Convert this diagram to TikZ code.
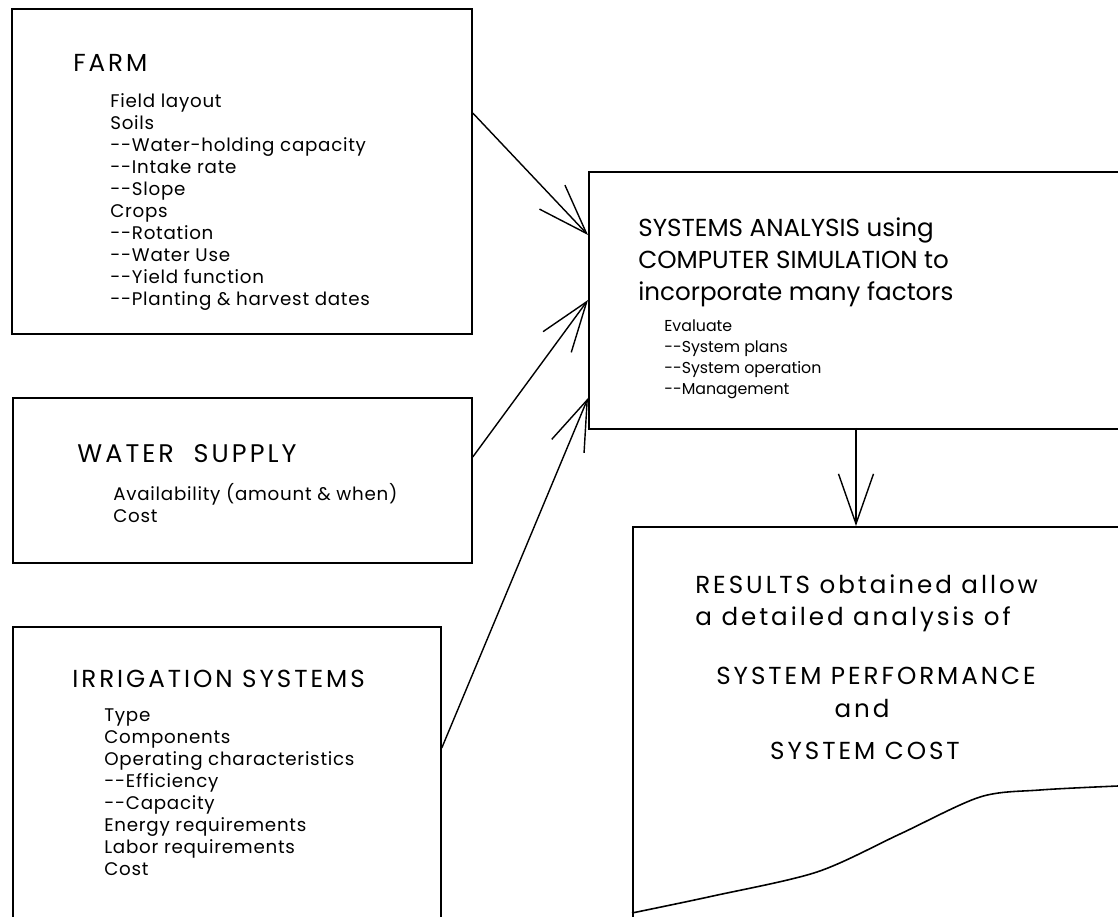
\documentclass[tikz,border=0pt]{standalone}
\usepackage{fontspec}
\setmainfont{Poppins}
\newfontfamily\wideface[LetterSpace=12]{Poppins}
\newfontfamily\itemface[LetterSpace=4]{Poppins}
\usetikzlibrary{arrows.meta, positioning, calc}

\begin{document}
\begin{tikzpicture}[
    box/.style={draw, line width=1pt, anchor=north west, inner sep=0pt},
    head/.style={anchor=base west, inner sep=0pt, font=\wideface\fontsize{14}{18.4}\selectfont},
    headblock/.style={anchor=north west, inner sep=0pt, align=left, font=\fontsize{14}{18.3}\selectfont},
    items/.style={anchor=north west, inner sep=0pt, align=left, font=\itemface\fontsize{10.4}{12.5}\selectfont},
    arr/.style={-{Straight Barb[length=1cm, width=0.7cm]}, line width=0.8pt}
]
\useasboundingbox (0,0) rectangle (22.36,-18.34);
\clip (0,0) rectangle (22.36,-18.34);

% boxes
\node[box, minimum width=9.2cm, minimum height=6.5cm] (farm) at (0.22,-0.16) {};
\node[box, minimum width=9.18cm, minimum height=3.3cm] (water) at (0.24,-7.94) {};
\node[box, minimum width=8.56cm, minimum height=7cm] (irrig) at (0.24,-12.52) {};
\node[box, minimum width=11.5cm, minimum height=5.14cm] (sa) at (11.76,-3.42) {};
\node[box, minimum width=11cm, minimum height=9cm] (results) at (12.64,-10.52) {};

% farm
\node[head] (farm-title) at (1.46,-1.44) {FARM};
\node[items] (farm-list) at (2.2,-1.87) {Field layout\\Soils\\-{}-Water-holding capacity\\-{}-Intake rate\\-{}-Slope\\Crops\\-{}-Rotation\\-{}-Water Use\\-{}-Yield function\\-{}-Planting \& harvest dates};

% water supply
\node[head, font=\wideface\fontsize{14.5}{18.4}\selectfont] (water-title) at (1.54,-9.26) {WATER \ SUPPLY};
\node[items] (water-list) at (2.26,-9.67) {Availability (amount \& when)\\Cost};

% irrigation
\node[head] (irrig-title) at (1.44,-13.76) {IRRIGATION SYSTEMS};
\node[items] (irrig-list) at (2.08,-14.17) {Type\\Components\\Operating characteristics\\-{}-Efficiency\\-{}-Capacity\\Energy requirements\\Labor requirements\\Cost};

% systems analysis
\node[headblock] (sa-title) at (12.76,-4.34) {SYSTEMS ANALYSIS using\\COMPUTER SIMULATION to\\incorporate many factors};
\node[items, font=\fontsize{9}{11.9}\selectfont] (sa-list) at (13.28,-6.39) {Evaluate\\-{}-System plans\\-{}-System operation\\-{}-Management};

% results
\node[headblock, font=\wideface\fontsize{14}{18.2}\selectfont] (res-title) at (13.9,-11.48) {RESULTS obtained allow\\a detailed analysis of};
\node[head, anchor=base] (res-perf) at (17.52,-13.70) {SYSTEM PERFORMANCE};
\node[head, anchor=base] (res-and) at (17.24,-14.36) {and};
\node[head, anchor=base] (res-cost) at (17.30,-15.20) {SYSTEM COST};

% arrows
\draw[arr] ([yshift=-2.1cm]farm.north east) -- ([yshift=-1.28cm]sa.north west);
\draw[arr] ([yshift=-1.2cm]water.north east) -- ([yshift=-2.58cm]sa.north west);
\draw[arr] ([yshift=-2.44cm]irrig.north east) -- ([yshift=-4.54cm]sa.north west);
\coordinate (drop) at (17.12,-8.56);
\draw[arr] (drop) -- (drop |- results.north);

% curve
\draw[line width=0.9pt] plot[smooth, tension=0.5] coordinates {(12.64,-18.26) (14.26,-17.92) (16.34,-17.44) (18.0,-16.68) (19.6,-15.94) (20.8,-15.8) (22.36,-15.72)};
\end{tikzpicture}
\end{document}
